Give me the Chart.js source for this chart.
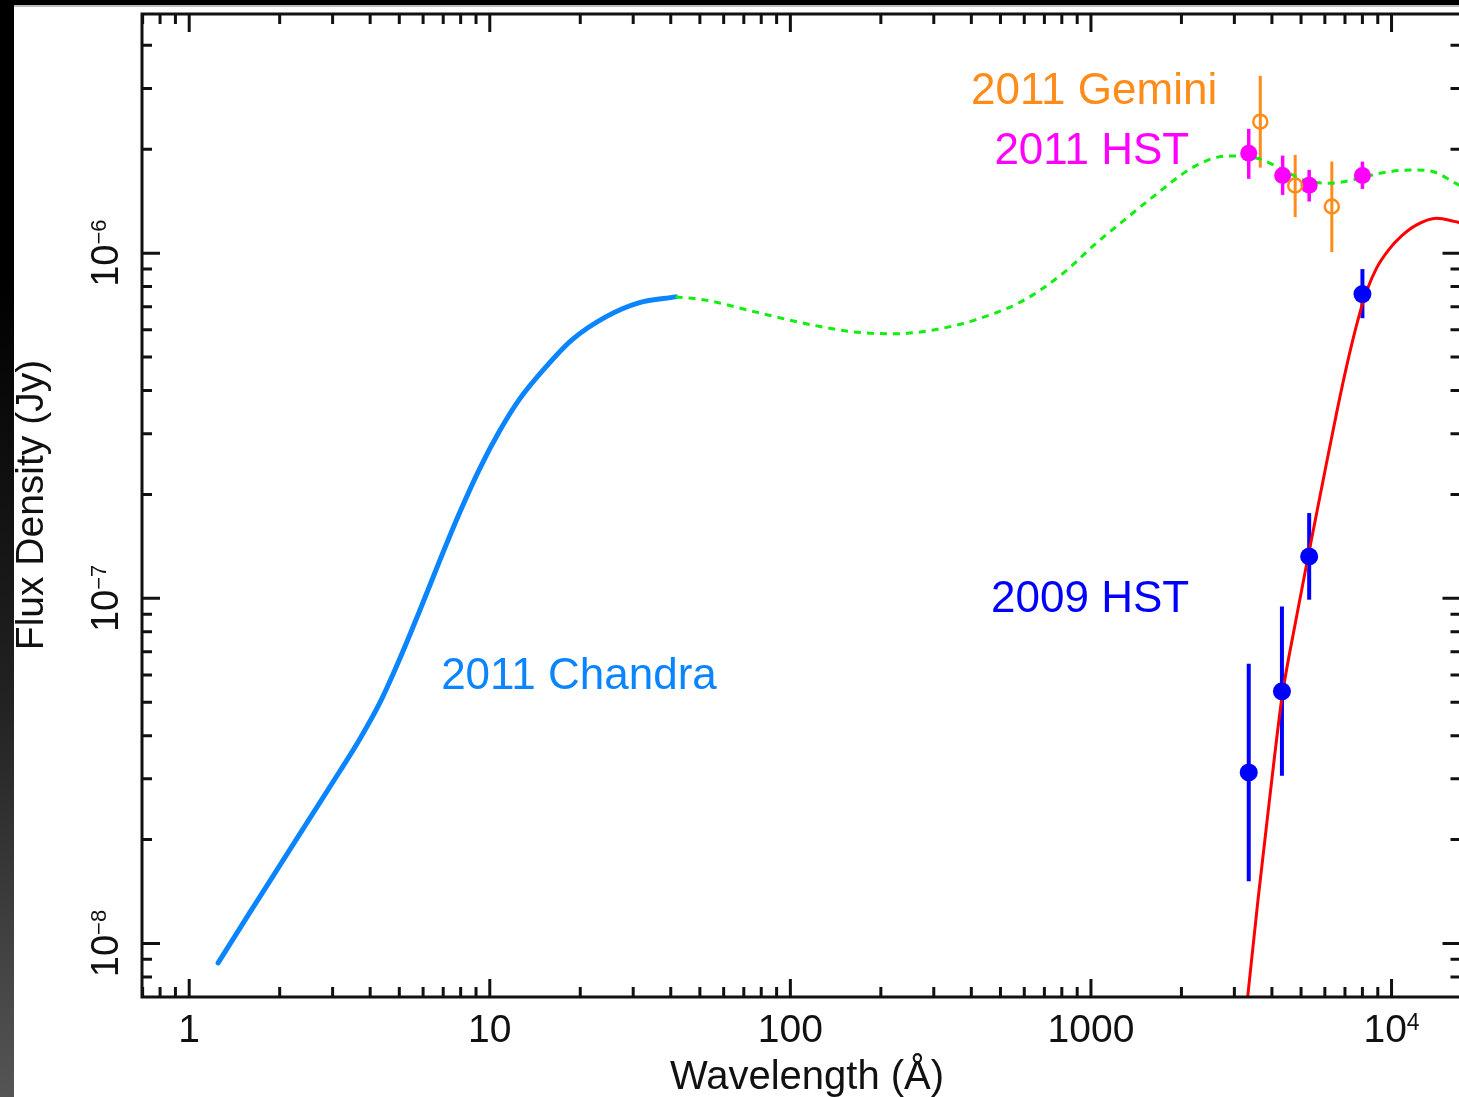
<!DOCTYPE html>
<html>
<head>
<meta charset="utf-8">
<script src="https://cdn.jsdelivr.net/npm/chart.js@4.4.1/dist/chart.umd.min.js"></script>
<style>
html, body { margin: 0; padding: 0; overflow: hidden; background: #fff; }
body { width: 1459px; height: 1097px; position: relative; }
#topbar { position: absolute; left: 0; top: 0; width: 1459px; height: 5px; background: #000; border-bottom: 2px solid #bdbdbd; }
#leftbar { position: absolute; left: 0; top: 0; width: 14px; height: 1097px;
  background: linear-gradient(to bottom, #000 0px, #000 280px, #222 700px, #555 1097px); }
canvas { position: absolute; left: 0; top: 0; }
</style>
</head>
<body>
<canvas id="sed" width="1470" height="1097"></canvas>
<div id="topbar"></div>
<div id="leftbar"></div>
<script>
// axis ranges (wavelength in Angstrom, flux density in Jy)
const xMin = 0.6966, xMax = 16960;
const yMin = 7.02e-9, yMax = 4.93e-6;
const xTickLabels = ["1", "10", "100", "1000", "10^4"];
const xTickValues = [1, 10, 100, 1000, 10000];
const yTickLabels = ["10^-8", "10^-7", "10^-6"];
const yTickValues = [1e-8, 1e-7, 1e-6];

// 2011 Chandra model (solid blue)
const chandraWave = [1.248, 1.590, 2.000, 2.515, 3.162, 3.684, 4.293, 5.002, 5.827, 6.789, 7.909, 9.215, 10.74, 12.51, 15.38, 18.76, 24.32, 31.29, 41.51];
const chandraFlux = [8.79e-9, 1.229e-8, 1.681e-8, 2.300e-8, 3.145e-8, 3.896e-8, 4.951e-8, 6.640e-8, 9.146e-8, 1.276e-7, 1.758e-7, 2.357e-7, 3.038e-7, 3.759e-7, 4.685e-7, 5.609e-7, 6.539e-7, 7.178e-7, 7.470e-7];

// extrapolated model (green dashed)
const modelWave = [41.51, 51.8, 75.7, 117.4, 166.7, 223.4, 299, 412.6, 586.3, 808.8, 1035, 1272, 1624, 2205, 2838, 3567, 4157, 5098, 6247, 7278, 9151, 11810, 13760, 16320, 16960];
const modelFlux = [7.47e-7, 7.32e-7, 6.77e-7, 6.20e-7, 5.90e-7, 5.84e-7, 5.99e-7, 6.41e-7, 7.24e-7, 8.75e-7, 1.064e-6, 1.234e-6, 1.466e-6, 1.781e-6, 1.913e-6, 1.884e-6, 1.781e-6, 1.631e-6, 1.595e-6, 1.623e-6, 1.705e-6, 1.743e-6, 1.722e-6, 1.595e-6, 1.566e-6];

// stellar fit (red)
const starWave = [3288, 3323, 3596, 3951, 4319, 4781, 5268, 5863, 6575, 7206, 7780, 8271, 8925, 9781, 10800, 12120, 14110, 16320, 16960];
const starFlux = [6.43e-9, 7.02e-9, 1.34e-8, 2.735e-8, 5.153e-8, 8.44e-8, 1.311e-7, 2.104e-7, 3.47e-7, 5.007e-7, 6.539e-7, 7.778e-7, 9.067e-7, 1.022e-6, 1.122e-6, 1.208e-6, 1.263e-6, 1.234e-6, 1.224e-6];

// 2011 HST photometry
const hst11Wave = [3349, 4342, 5321, 8001];
const hst11Flux = [1.948e-6, 1.678e-6, 1.573e-6, 1.678e-6];
const hst11Low = [1.642e-6, 1.475e-6, 1.411e-6, 1.535e-6];
const hst11High = [2.291e-6, 1.917e-6, 1.743e-6, 1.842e-6];

// 2011 Gemini photometry
const gemWave = [3659, 4780, 6329];
const gemFlux = [2.404e-6, 1.570e-6, 1.365e-6];
const gemLow = [1.769e-6, 1.272e-6, 1.007e-6];
const gemHigh = [3.263e-6, 1.926e-6, 1.842e-6];

// 2009 HST photometry
const hst09Wave = [3349, 4319, 5321, 8001];
const hst09Flux = [3.131e-8, 5.38e-8, 1.322e-7, 7.61e-7];
const hst09Low = [1.514e-8, 3.06e-8, 9.91e-8, 6.48e-7];
const hst09High = [6.46e-8, 9.47e-8, 1.766e-7, 8.99e-7];

// labels: text, wavelength, flux (baseline), align
const noteText = ["2011 Gemini", "2011 HST", "2009 HST", "2011 Chandra"];
const noteWave = [2630, 2123, 2123, 6.89];
const noteFlux = [2.71e-6, 1.814e-6, 9.14e-8, 5.47e-8];
const noteAlign = ["right", "right", "right", "left"];
const noteColor = ["#ff8c1a", "#ff00ff", "#0000ff", "#0a84ff"];

function pts(xs, ys) {
  return xs.map(function (x, i) { return { x: x, y: ys[i] }; });
}

const errorSets = [
  { wave: gemWave, low: gemLow, high: gemHigh, color: "#ff8c1a", width: 3 },
  { wave: hst11Wave, low: hst11Low, high: hst11High, color: "#ff00ff", width: 3.5 },
  { wave: hst09Wave, low: hst09Low, high: hst09High, color: "#0000ff", width: 4 }
];

const FONT = "'Liberation Sans', Arial, Helvetica, sans-serif";

// label like "10^-6" : base + superscript
function powLabel(ctx, txt, size) {
  const parts = txt.split("^");
  const base = parts[0];
  const exp = parts[1] ? parts[1].replace("-", "\u2212") : "";
  ctx.font = size + "px " + FONT;
  const wb = ctx.measureText(base).width;
  ctx.font = Math.round(size * 0.58) + "px " + FONT;
  const we = exp ? ctx.measureText(exp).width : 0;
  return { base: base, exp: exp, wb: wb, we: we, total: wb + we };
}

function drawPow(ctx, txt, size, cx, baseline) {
  const m = powLabel(ctx, txt, size);
  const x0 = cx - m.total / 2;
  ctx.textAlign = "left";
  ctx.textBaseline = "alphabetic";
  ctx.font = size + "px " + FONT;
  ctx.fillText(m.base, x0, baseline);
  if (m.exp) {
    ctx.font = Math.round(size * 0.58) + "px " + FONT;
    ctx.fillText(m.exp, x0 + m.wb, baseline - 12);
  }
}

const errorBars = {
  id: "errorBars",
  beforeDatasetsDraw(chart) {
    const ctx = chart.ctx;
    const xs = chart.scales.x, ys = chart.scales.y;
    ctx.save();
    errorSets.forEach(function (s) {
      ctx.strokeStyle = s.color;
      ctx.lineWidth = s.width;
      s.wave.forEach(function (w, i) {
        const px = xs.getPixelForValue(w);
        ctx.beginPath();
        ctx.moveTo(px, ys.getPixelForValue(s.low[i]));
        ctx.lineTo(px, ys.getPixelForValue(s.high[i]));
        ctx.stroke();
      });
    });
    ctx.restore();
  }
};

const frameAndText = {
  id: "frameAndText",
  afterDraw(chart) {
    const ctx = chart.ctx;
    const a = chart.chartArea;
    const xs = chart.scales.x, ys = chart.scales.y;
    ctx.save();

    // notes
    ctx.textBaseline = "alphabetic";
    ctx.font = "44px " + FONT;
    noteText.forEach(function (t, i) {
      ctx.fillStyle = noteColor[i];
      ctx.textAlign = noteAlign[i];
      ctx.fillText(t, xs.getPixelForValue(noteWave[i]), ys.getPixelForValue(noteFlux[i]));
    });

    // frame
    ctx.strokeStyle = "#111";
    ctx.lineWidth = 3;
    ctx.strokeRect(a.left, a.top, a.right - a.left, a.bottom - a.top);

    // ticks (inward, all four sides)
    for (let d = -1; d <= 4; d++) {
      for (let m = 1; m <= 9; m++) {
        const v = m * Math.pow(10, d);
        if (v < xMin || v > xMax) continue;
        const px = xs.getPixelForValue(v);
        const len = m === 1 ? 18 : 10;
        ctx.beginPath();
        ctx.moveTo(px, a.bottom); ctx.lineTo(px, a.bottom - len);
        ctx.moveTo(px, a.top); ctx.lineTo(px, a.top + len);
        ctx.stroke();
      }
    }
    for (let d = -9; d <= -5; d++) {
      for (let m = 1; m <= 9; m++) {
        const v = m * Math.pow(10, d);
        if (v < yMin || v > yMax) continue;
        const py = ys.getPixelForValue(v);
        const len = m === 1 ? 18 : 10;
        ctx.beginPath();
        ctx.moveTo(a.left, py); ctx.lineTo(a.left + len, py);
        ctx.moveTo(a.right, py); ctx.lineTo(a.right - len, py);
        ctx.stroke();
      }
    }

    // tick labels
    ctx.fillStyle = "#111";
    xTickValues.forEach(function (v, i) {
      drawPow(ctx, xTickLabels[i], 39, xs.getPixelForValue(v), 1042);
    });
    yTickValues.forEach(function (v, i) {
      ctx.save();
      ctx.translate(118, ys.getPixelForValue(v));
      ctx.rotate(-Math.PI / 2);
      drawPow(ctx, yTickLabels[i], 38, 0, 0);
      ctx.restore();
    });

    // axis titles
    ctx.textAlign = "center";
    ctx.textBaseline = "alphabetic";
    ctx.font = "40px " + FONT;
    ctx.fillText("Wavelength (\u00c5)", 807, 1089);
    ctx.save();
    ctx.translate(43, 505);
    ctx.rotate(-Math.PI / 2);
    ctx.font = "39px " + FONT;
    ctx.fillText("Flux Density (Jy)", 0, 0);
    ctx.restore();

    ctx.restore();
  }
};

new Chart(document.getElementById("sed"), {
  type: "scatter",
  data: {
    datasets: [
      {
        data: pts(gemWave, gemFlux),
        pointStyle: "circle", pointRadius: 7,
        borderColor: "#ff8c1a", backgroundColor: "rgba(0,0,0,0)", borderWidth: 2.5,
        order: 1
      },
      {
        data: pts(hst11Wave, hst11Flux),
        pointStyle: "circle", pointRadius: 8.5,
        borderColor: "#ff00ff", backgroundColor: "#ff00ff", borderWidth: 0,
        order: 2
      },
      {
        data: pts(hst09Wave, hst09Flux),
        pointStyle: "circle", pointRadius: 9,
        borderColor: "#0000ff", backgroundColor: "#0000ff", borderWidth: 0,
        order: 3
      },
      {
        data: pts(starWave, starFlux),
        showLine: true, pointRadius: 0, borderColor: "#ff0000", borderWidth: 3,
        cubicInterpolationMode: "monotone", clip: 0, order: 4
      },
      {
        data: pts(modelWave, modelFlux),
        showLine: true, pointRadius: 0, borderColor: "#11ee11", borderWidth: 3,
        borderDash: [7, 6], cubicInterpolationMode: "monotone", clip: 0, order: 5
      },
      {
        data: pts(chandraWave, chandraFlux),
        showLine: true, pointRadius: 0, borderColor: "#0a84ff", borderWidth: 5,
        borderCapStyle: "round", borderJoinStyle: "round",
        cubicInterpolationMode: "monotone", clip: 0, order: 6
      }
    ]
  },
  options: {
    responsive: false,
    animation: false,
    events: [],
    layout: { padding: { left: 142, top: 14, right: 6, bottom: 100 } },
    plugins: { legend: { display: false }, tooltip: { enabled: false } },
    scales: {
      x: { type: "logarithmic", min: xMin, max: xMax, display: false },
      y: { type: "logarithmic", min: yMin, max: yMax, display: false }
    }
  },
  plugins: [errorBars, frameAndText]
});
</script>
</body>
</html>
